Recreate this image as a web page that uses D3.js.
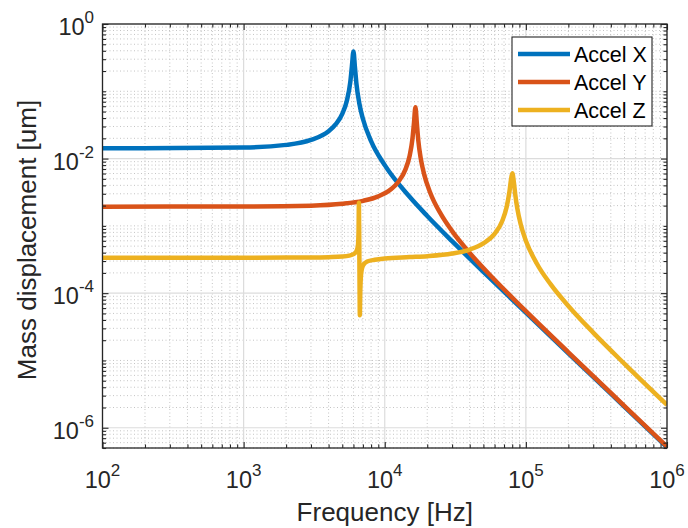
<!DOCTYPE html>
<html><head><meta charset="utf-8">
<script src="https://cdn.jsdelivr.net/npm/d3@7"></script>
<style>
body{margin:0;background:#fff}
text{font-family:"Liberation Sans",Arial,Helvetica,sans-serif;fill:#262626}
</style>
</head><body><svg id="chart" width="688" height="528"></svg>
<script>
// ---- data ----
const seriesNames = ["Accel X", "Accel Y", "Accel Z"];
const freqX = [100,1000,2000,3000,4000,4500,5000,5400,5700,5850,6000,6150,6300,6600,7000,8000,10000,15000,20000,30000,50000,100000,200000,500000,1000000];
const accelX = [0.0142,0.01461,0.01598,0.01893,0.02553,0.0324,0.04624,0.07365,0.1373,0.2336,0.3905,0.2259,0.1298,0.06642,0.03905,0.01822,0.007983,0.002705,0.001404,0.000592,0.0002075,5.13e-5,1.279e-5,2.045e-6,5.112e-7];
const freqY = [100,1000,3000,5000,7000,9000,11000,12500,14000,15000,15700,16100,16500,16900,17300,18000,19000,21000,25000,30000,40000,60000,100000,200000,500000,1000000];
const accelY = [0.00193,0.001937,0.001996,0.002125,0.002354,0.002747,0.003474,0.00453,0.006858,0.01095,0.01934,0.03333,0.0579,0.03232,0.01833,0.00997,0.005879,0.003114,0.00149,0.000837,0.0003957,0.0001579,5.401e-5,1.323e-5,2.104e-6,5.256e-7];
const freqZ = [100,1000,2000,3000,4000,5000,5600,6000,6300,6450,6520,6560,6610,6640,6660,6700,6800,7000,7500,8500,10000,15000,20000,30000,40000,50000,60000,68000,73000,76500,78500,80200,82000,84000,87000,92000,100000,120000,150000,200000,300000,500000,1000000];
const accelZ = [3.37e-4,3.37e-4,3.38e-4,3.39e-4,3.43e-4,3.5e-4,3.62e-4,3.8e-4,4.2e-4,5.0e-4,8.0e-4,2.2e-3,3.3e-4,8.2e-5,4.7e-5,9.4e-5,1.92e-4,2.55e-4,2.95e-4,3.13e-4,3.28e-4,3.44e-4,3.55e-4,3.88e-4,4.45e-4,5.5e-4,7.62e-4,1.182e-3,1.885e-3,3.225e-3,4.909e-3,6.066e-3,4.638e-3,2.98e-3,1.804e-3,1.046e-3,6.03e-4,2.714e-4,1.349e-4,6.457e-5,2.594e-5,8.9e-6,2.182e-6];
const colors = ["#0072BD", "#D95319", "#EDB120"];
const xTickExps = [2,3,4,5,6];
const yTickExps = [0,-2,-4,-6];
const xDomain = [1e2, 1e6];
const yDomain = [5e-7, 1];
const xLabel = "Frequency [Hz]";
const yLabel = "Mass displacement [um]";

// ---- layout ----
const L = 102.5, R = 667, T = 24, B = 448;
const svg = d3.select("#chart");
const x = d3.scaleLog().domain(xDomain).range([L, R]);
const y = d3.scaleLog().domain(yDomain).range([B, T]);

const xMajor = xTickExps.map(e => Math.pow(10, e));
const yMajor = yTickExps.map(e => Math.pow(10, e));
const xMinor = [];
for (let e = 2; e < 6; e++) for (let m = 2; m <= 9; m++) xMinor.push(m * Math.pow(10, e));
const yMinor = [];
for (let e = -7; e <= 0; e++) for (let m = 1; m <= 9; m++) {
  const v = m * Math.pow(10, e);
  if (v < yDomain[0] * 0.999 || v > yDomain[1] * 1.001) continue;
  if (m === 1 && yTickExps.includes(e)) continue;
  yMinor.push(v);
}

// grid
const grid = svg.append("g");
grid.selectAll(".xmin").data(xMinor).enter().append("line")
  .attr("x1", d => x(d)).attr("x2", d => x(d)).attr("y1", T).attr("y2", B)
  .attr("stroke", "#c4c4c4").attr("stroke-width", 1).attr("stroke-dasharray", "1,2.5");
grid.selectAll(".ymin").data(yMinor).enter().append("line")
  .attr("y1", d => y(d)).attr("y2", d => y(d)).attr("x1", L).attr("x2", R)
  .attr("stroke", "#c4c4c4").attr("stroke-width", 1).attr("stroke-dasharray", "1,2.5");
grid.selectAll(".xmaj").data(xMajor).enter().append("line")
  .attr("x1", d => x(d)).attr("x2", d => x(d)).attr("y1", T).attr("y2", B)
  .attr("stroke", "#dcdcdc").attr("stroke-width", 1.2);
grid.selectAll(".ymaj").data(yMajor).enter().append("line")
  .attr("y1", d => y(d)).attr("y2", d => y(d)).attr("x1", L).attr("x2", R)
  .attr("stroke", "#dcdcdc").attr("stroke-width", 1.2);

// lines
svg.append("clipPath").attr("id", "clip").append("rect")
  .attr("x", L).attr("y", T).attr("width", R - L).attr("height", B - T);
const series = [
  {f: freqX, v: accelX}, {f: freqY, v: accelY}, {f: freqZ, v: accelZ}
];
const line = d3.line().x(d => x(d[0])).y(d => y(d[1])).curve(d3.curveMonotoneX);
const plot = svg.append("g").attr("clip-path", "url(#clip)");
series.forEach((s, i) => {
  plot.append("path")
    .datum(s.f.map((f, j) => [f, s.v[j]]))
    .attr("d", line)
    .attr("fill", "none").attr("stroke", colors[i]).attr("stroke-width", 4.5)
    .attr("stroke-linejoin", "round").attr("stroke-linecap", "butt");
});

// axes (ticks inside, box)
function styleAxis(g) {
  g.select(".domain").remove();
  g.selectAll(".tick line").attr("stroke", "#262626").attr("stroke-width", 1.1);
  g.selectAll("text").remove();
}
const fmt = () => "";
[[d3.axisBottom, B], [d3.axisTop, T]].forEach(([ax, yy]) => {
  svg.append("g").attr("transform", `translate(0,${yy})`)
    .call(ax(x).tickValues(xMajor).tickSize(-6).tickFormat(fmt)).call(styleAxis);
  svg.append("g").attr("transform", `translate(0,${yy})`)
    .call(ax(x).tickValues(xMinor).tickSize(-3.5).tickFormat(fmt)).call(styleAxis);
});
[[d3.axisLeft, L], [d3.axisRight, R]].forEach(([ax, xx]) => {
  svg.append("g").attr("transform", `translate(${xx},0)`)
    .call(ax(y).tickValues(yMajor).tickSize(-6).tickFormat(fmt)).call(styleAxis);
  svg.append("g").attr("transform", `translate(${xx},0)`)
    .call(ax(y).tickValues(yMinor).tickSize(-3.5).tickFormat(fmt)).call(styleAxis);
});
svg.append("rect").attr("x", L).attr("y", T).attr("width", R - L).attr("height", B - T)
  .attr("fill", "none").attr("stroke", "#262626").attr("stroke-width", 1.3);

// tick labels
xTickExps.forEach(e => {
  const t = svg.append("text").attr("x", x(Math.pow(10, e))).attr("y", 488)
    .attr("text-anchor", "middle").style("font-size", "23.5px");
  t.append("tspan").text("10");
  t.append("tspan").text(String(e)).attr("dy", -12).style("font-size", "17px");
});
yTickExps.forEach(e => {
  const t = svg.append("text").attr("x", 94).attr("y", y(Math.pow(10, e)) + 11)
    .attr("text-anchor", "end").style("font-size", "23.5px");
  t.append("tspan").text("10");
  t.append("tspan").text(String(e)).attr("dy", -12).style("font-size", "17px");
});

// axis labels
svg.append("text").attr("x", (L + R) / 2).attr("y", 521).attr("text-anchor", "middle")
  .style("font-size", "26px").text(xLabel);
svg.append("text").attr("transform", `translate(36,${(T + B) / 2 + 4}) rotate(-90)`)
  .attr("text-anchor", "middle").style("font-size", "26px").text(yLabel);

// legend
const lg = svg.append("g");
lg.append("rect").attr("x", 512).attr("y", 37).attr("width", 140).attr("height", 89)
  .attr("fill", "#fff").attr("stroke", "#262626").attr("stroke-width", 1.1);
seriesNames.forEach((n, i) => {
  const cy = 54 + i * 28;
  lg.append("line").attr("x1", 518).attr("x2", 570).attr("y1", cy).attr("y2", cy)
    .attr("stroke", colors[i]).attr("stroke-width", 4.5);
  lg.append("text").attr("x", 574).attr("y", cy + 7.5).style("font-size", "21.5px")
    .style("fill", "#000").text(n);
});
</script></body></html>
